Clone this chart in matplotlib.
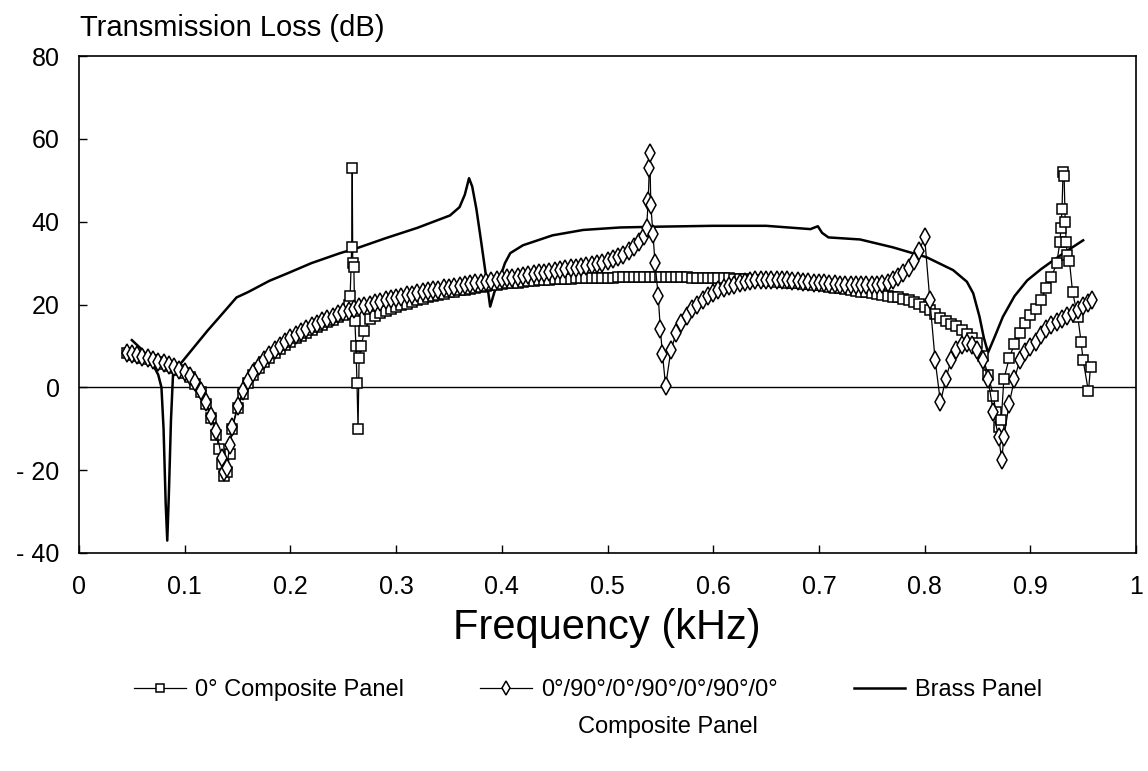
import numpy as np
import matplotlib
matplotlib.use("Agg")
import matplotlib.pyplot as plt

plt.rcParams['font.family'] = ['Liberation Sans', 'DejaVu Sans']
plt.rcParams['axes.unicode_minus'] = False

# frequency grid (kHz) shared by the two composite panels
freq_grid = np.round(np.arange(0.045, 0.9551, 0.005), 4)

# 0 deg composite panel, transmission loss (dB) on the grid
tl_uni = [
    8.2, 7.8, 7.5, 7.2, 6.8, 6.5, 6.1, 5.7, 5.2, 4.7,
    4.1, 3.5, 2.5, 0.9, -1.2, -4.0, -7.5, -11.5, -18.5, -20.5,
    -10.0, -5.0, -1.5, 1.0, 3.0, 4.6, 6.0, 7.2, 8.3, 9.3,
    10.2, 11.0, 11.8, 12.5, 13.2, 13.9, 14.5, 15.1, 15.7, 16.3,
    16.9, 17.5, 20.0, 29.0, 7.0, 13.5, 16.5, 17.3, 17.9, 18.4,
    18.9, 19.4, 19.8, 20.2, 20.6, 21.0, 21.3, 21.7, 22.0, 22.3,
    22.6, 22.9, 23.1, 23.4, 23.6, 23.8, 24.0, 24.2, 24.4, 24.6,
    24.8, 24.9, 25.1, 25.2, 25.3, 25.5, 25.6, 25.7, 25.8, 25.9,
    26.0, 26.1, 26.1, 26.2, 26.2, 26.3, 26.3, 26.4, 26.4, 26.4,
    26.5, 26.5, 26.5, 26.6, 26.6, 26.6, 26.6, 26.6, 26.6, 26.6,
    26.6, 26.6, 26.6, 26.6, 26.6, 26.6, 26.6, 26.5, 26.5, 26.5,
    26.5, 26.4, 26.4, 26.3, 26.3, 26.2, 26.2, 26.1, 26.0, 25.9,
    25.8, 25.7, 25.6, 25.5, 25.4, 25.3, 25.2, 25.1, 25.0, 24.9,
    24.8, 24.7, 24.5, 24.3, 24.1, 23.9, 23.7, 23.5, 23.3, 23.1,
    22.9, 22.7, 22.5, 22.3, 22.1, 21.9, 21.7, 21.4, 21.1, 20.7,
    20.2, 19.5, 18.6, 17.6, 16.8, 16.0, 15.4, 14.7, 13.9, 12.9,
    11.8, 10.6, 7.5, 3.0, -2.0, -9.5, 2.0, 7.0, 10.5, 13.0,
    15.5, 17.5, 19.0, 21.0, 24.0, 26.6, 30.0, 43.0, 32.0, 23.0,
    17.0, 6.5, -1.0,
]
# extra samples around the resonances
uni_extra_f = [0.1325, 0.1375, 0.1425, 0.2565, 0.258, 0.2585, 0.259, 0.261,
               0.262, 0.263, 0.264, 0.267, 0.8675, 0.8725, 0.928, 0.929,
               0.931, 0.932, 0.933, 0.934, 0.937, 0.948, 0.957]
uni_extra_tl = [-15.0, -21.5, -16.0, 22.0, 34.0, 53.0, 30.0, 16.0,
                10.0, 1.0, -10.0, 10.0, -6.0, -8.0, 35.0, 38.5,
                52.0, 51.0, 40.0, 35.0, 30.5, 11.0, 5.0]

# 0/90/0/90/0/90/0 composite panel
tl_cross = [
    8.4, 8.0, 7.7, 7.3, 7.0, 6.6, 6.2, 5.8, 5.3, 4.8,
    4.2, 3.6, 2.7, 1.2, -0.8, -3.5, -7.0, -10.5, -17.0, -19.5,
    -9.5, -4.5, -1.0, 1.5, 3.5, 5.2, 6.6, 7.9, 9.0, 10.0,
    11.0, 11.9, 12.7, 13.4, 14.1, 14.8, 15.4, 16.0, 16.6, 17.1,
    17.6, 18.1, 18.5, 18.9, 19.3, 19.7, 20.0, 20.4, 20.7, 21.0,
    21.3, 21.6, 21.9, 22.2, 22.4, 22.7, 22.9, 23.2, 23.4, 23.6,
    23.9, 24.1, 24.3, 24.5, 24.7, 24.9, 25.1, 25.3, 25.5, 25.7,
    25.9, 26.1, 26.3, 26.5, 26.7, 26.9, 27.1, 27.3, 27.5, 27.7,
    27.9, 28.1, 28.3, 28.5, 28.7, 28.9, 29.1, 29.3, 29.5, 29.8,
    30.1, 30.5, 30.9, 31.4, 32.0, 32.8, 33.8, 35.0, 36.5, 56.5,
    30.0, 14.0, 0.3, 9.0, 13.0, 15.5, 17.3, 18.8, 20.0, 21.0,
    22.0, 22.8, 23.4, 24.0, 24.4, 24.8, 25.1, 25.4, 25.6, 25.8,
    25.9, 25.9, 25.9, 25.9, 25.9, 25.8, 25.7, 25.6, 25.5, 25.4,
    25.3, 25.2, 25.1, 25.0, 24.9, 24.8, 24.8, 24.7, 24.7, 24.7,
    24.7, 24.7, 24.8, 25.0, 25.3, 25.8, 26.6, 27.6, 28.8, 30.5,
    33.0, 36.3, 21.0, 6.5, -3.6, 2.0, 6.5, 9.0, 10.3, 10.8,
    10.3, 9.0, 6.5, 2.0, -6.0, -12.0, -12.0, -4.0, 2.0, 6.5,
    8.5, 9.8, 11.0, 12.7, 14.0, 15.0, 15.8, 16.6, 17.3, 18.0,
    18.7, 19.6, 20.3,
]
cross_extra_f = [0.1375, 0.1425, 0.537, 0.5385, 0.5395, 0.541, 0.543,
                 0.548, 0.552, 0.873, 0.958]
cross_extra_tl = [-20.5, -14.0, 38.5, 45.0, 53.0, 44.0, 37.0,
                  22.0, 8.0, -17.5, 21.0]

# brass panel
brass_f = [0.05, 0.06, 0.069, 0.075, 0.078, 0.08, 0.082, 0.0835, 0.085, 0.087,
           0.089, 0.093, 0.097, 0.105, 0.113, 0.122, 0.133, 0.149, 0.16, 0.18,
           0.197, 0.22, 0.247, 0.263, 0.29, 0.32, 0.351, 0.36, 0.365, 0.369,
           0.372, 0.376, 0.38, 0.385, 0.389, 0.393, 0.398, 0.403, 0.408, 0.42,
           0.448, 0.477, 0.512, 0.55, 0.6, 0.65, 0.692, 0.699, 0.703, 0.709,
           0.739, 0.77, 0.802, 0.827, 0.84, 0.846, 0.852, 0.856, 0.86, 0.866,
           0.874, 0.885, 0.897, 0.91, 0.922, 0.935, 0.95]
brass_tl = [11.4, 9.0, 6.0, 3.0, 0.0, -10.0, -28.0, -37.0, -26.0, -8.0,
            3.4, 5.0, 6.0, 8.5, 11.0, 13.8, 17.0, 21.7, 23.0, 25.7,
            27.5, 30.0, 32.4, 33.6, 36.0, 38.5, 41.5, 43.5, 46.5, 50.5,
            48.5, 43.0, 36.0, 27.0, 19.5, 23.0, 26.3, 30.0, 32.4, 34.3,
            36.7, 38.0, 38.6, 38.8, 39.0, 39.0, 38.2, 38.9, 37.3, 36.2,
            35.7, 33.8, 31.4, 28.3, 25.5, 22.7, 17.0, 12.0, 8.4, 12.0,
            17.0, 22.0, 25.8, 28.5, 30.7, 33.0, 35.5]


def merged(grid, vals, ef, ev):
    f = np.concatenate([grid, ef])
    v = np.concatenate([vals, ev])
    order = np.argsort(f, kind='stable')
    return f[order], v[order]


uni_f, uni_v = merged(freq_grid, tl_uni, uni_extra_f, uni_extra_tl)
cross_f, cross_v = merged(freq_grid, tl_cross, cross_extra_f, cross_extra_tl)

fig = plt.figure(figsize=(11.48, 7.71), dpi=100)
ax = fig.add_axes([79 / 1148, 1 - 553 / 771, 1057 / 1148, 497 / 771])

ax.axhline(0, color='black', lw=1.0, zorder=1)
ax.plot(brass_f, brass_tl, color='black', lw=1.8, label='Brass Panel', zorder=3)
ax.plot(uni_f, uni_v, color='black', lw=0.9, marker='s', ms=7.5,
        mfc='white', mec='black', mew=1.1,
        label='0° Composite Panel', zorder=4)
ax.plot(cross_f, cross_v, color='black', lw=0.9, marker='d', ms=9,
        mfc='white', mec='black', mew=1.1,
        label='0°/90°/0°/90°/0°/90°/0°', zorder=5)

ax.set_xlim(0, 1)
ax.set_ylim(-40, 80)
ax.set_xticks(np.arange(0, 1.01, 0.1))
ax.set_xticklabels(['0', '0.1', '0.2', '0.3', '0.4', '0.5', '0.6', '0.7',
                    '0.8', '0.9', '1'])
ax.set_yticks(range(-40, 81, 20))
ax.set_yticklabels(['- 40', '- 20', '0', '20', '40', '60', '80'])
ax.tick_params(direction='in', length=6, width=1, labelsize=18)
ax.tick_params(axis='x', pad=16)
ax.tick_params(axis='y', pad=14)
for s in ax.spines.values():
    s.set_linewidth(1.2)

fig.text(80 / 1148, 1 - 42 / 771, 'Transmission Loss (dB)', fontsize=21,
         ha='left', va='bottom')
fig.text(607 / 1148, 1 - 628 / 771, 'Frequency (kHz)', fontsize=30,
         ha='center', va='center')

h, l = ax.get_legend_handles_labels()
leg = fig.legend([h[1], h[2], h[0]], [l[1], l[2], l[0]], ncol=3,
                 loc='center', bbox_to_anchor=(588 / 1148, 1 - 690 / 771),
                 frameon=False, fontsize=17, handlelength=2.2,
                 columnspacing=3.2, handletextpad=0.4, markerscale=0.75)
fig.text(668 / 1148, 1 - 727 / 771, 'Composite Panel', fontsize=17,
         ha='center', va='center')

fig.savefig('out.png', dpi=100)
